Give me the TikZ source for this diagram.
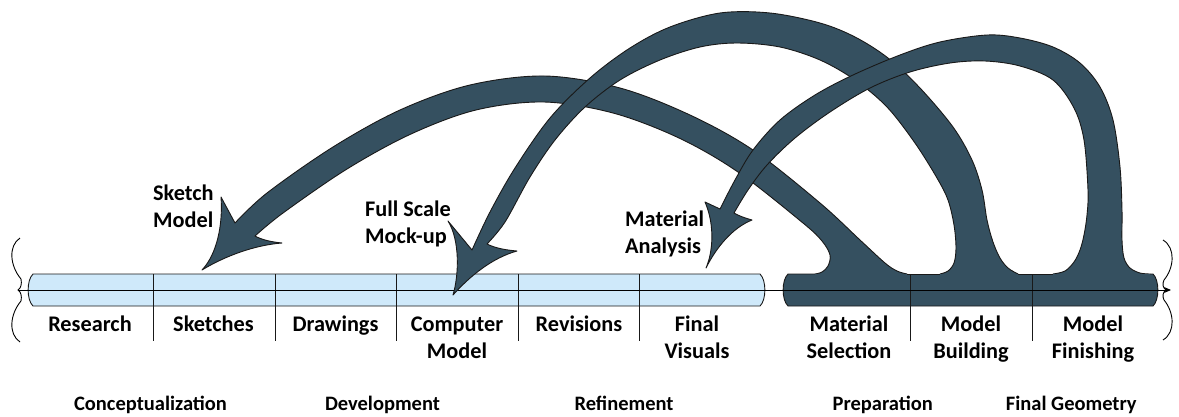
\documentclass[tikz,border=0pt]{standalone}
\usepackage{fontspec}
\setmainfont{Carlito}
\usetikzlibrary{arrows.meta}
\definecolor{slate}{RGB}{53,80,96}
\definecolor{paleblue}{RGB}{207,233,250}
\definecolor{inkline}{RGB}{25,25,25}
\tikzset{
  barline/.style={draw=inkline, line width=0.9pt},
  lightbar/.style={fill=paleblue, draw=inkline, line width=0.9pt},
  flowarrow/.style={fill=slate, draw=inkline, line width=0.9pt, line join=round},
  axisline/.style={draw=black, line width=1pt},
  bracket/.style={draw=black, line width=0.9pt},
  celltext/.style={font=\bfseries\fontsize{22.3}{27}\selectfont, align=center, anchor=base, inner sep=0pt},
  phasetext/.style={font=\bfseries\fontsize{20.5}{24}\selectfont, anchor=base, inner sep=0pt},
  notetext/.style={font=\bfseries\fontsize{22.3}{27}\selectfont, align=left, anchor=base west, inner sep=0pt},
}
\begin{document}
\begin{tikzpicture}[x=1pt,y=-1pt]
\useasboundingbox (0,0) rectangle (1179,416);

% axis end points
\coordinate (axisL) at (18,290);
\coordinate (axisM) at (776,290);
\coordinate (axisR) at (1171,290);

% light timeline bar (design stages)
\filldraw[lightbar] (33,274) -- (760,274) .. controls (766.5,280) and (766.5,300) .. (760,306)
  -- (33,306) .. controls (26.5,300) and (26.5,280) .. (33,274) -- cycle;
\foreach \x in {153,275,396,518,639}
  \draw[barline] (\x,274) -- (\x,341);

\draw[axisline] (axisL) -- (axisM);

% wavy brackets at both ends
\draw[bracket] (20,238) .. controls (8,246) and (10,266) .. (21,279)
  .. controls (22,284) and (21,288) .. (18,290)
  .. controls (21,292) and (22,296) .. (21,301)
  .. controls (10,314) and (8,334) .. (20,342);
\draw[bracket] (1163,240) .. controls (1176,248) and (1174,268) .. (1164,280)
  .. controls (1162,284) and (1163,288) .. (1166,290)
  .. controls (1163,292) and (1162,296) .. (1164,300)
  .. controls (1174,312) and (1176,332) .. (1163,340);

% feedback arrow: material selection -> sketches
\filldraw[flowarrow] (907,274) -- plot[smooth, tension=0.55] coordinates {(907,274) (897,271) (885,263) (860,240) (820,203) (753,150) (690,115) (620,88) (545,76) (470,85) (400,110) (333,147) (267,193) (235,223)}
  -- (221,197) .. controls (223,225) and (217,254) .. (202,270)
  .. controls (225,256) and (255,245) .. (282,243)
  .. controls (272,242) and (262,240) .. (255,236)
  -- plot[smooth, tension=0.55] coordinates {(255,236) (283,213) (347,169) (411,134) (476,110) (544,102) (613,113) (679,138) (738,172) (803,223) (822,241) (830,255) (828,266) (822,272) (815,274)}
  -- (815,286) -- (907,286) -- cycle;

% feedback arrow: model building -> computer model
\filldraw[flowarrow] (1018,274) -- plot[smooth, tension=0.55] coordinates {(1018,274) (1008,268) (1000,258) (993,242) (987,220) (982,190) (972,160) (953,127) (920,88) (888,58) (855,37) (820,23) (770,13) (720,13) (670,27) (630,48) (590,78) (550,118) (515,168) (490,212) (472,250)}
  -- (448,221) .. controls (460,240) and (459,275) .. (453,295)
  .. controls (470,276) and (492,258) .. (517,251)
  .. controls (505,250) and (495,248) .. (487,244)
  -- plot[smooth, tension=0.55] coordinates {(487,244) (505,222) (530,177) (555,140) (585,107) (620,80) (660,60) (700,47) (737,43) (780,47) (820,60) (855,80) (887,107) (915,143) (937,178) (948,200) (954,225) (956,248) (954,263) (948,271) (940,274)}
  -- (940,286) -- (1018,286) -- cycle;

% feedback arrow: model finishing -> final visuals
\filldraw[flowarrow] (1150,274) -- plot[smooth, tension=0.55] coordinates {(1150,274) (1140,273) (1130,268) (1124,258) (1122,240) (1122,210) (1120,167) (1113,120) (1100,87) (1080,63) (1053,47) (1020,38) (987,35) (940,42) (900,55) (853,75) (815,95) (780,120) (753,150) (735,180) (720,209)}
  -- (705,202) .. controls (715,225) and (713,252) .. (706,268)
  .. controls (716,248) and (732,228) .. (752,220)
  .. controls (745,218) and (739,216) .. (734,213)
  -- plot[smooth, tension=0.55] coordinates {(734,213) (748,190) (767,165) (795,138) (830,112) (870,88) (910,72) (950,63) (985,61) (1020,66) (1053,80) (1074,108) (1084,140) (1088,190) (1087,215) (1084,235) (1080,250) (1074,262) (1065,271) (1053,274)}
  -- (1053,286) -- (1150,286) -- cycle;

% dark timeline bar (model stages), merged with the arrow tails
\fill[slate] (788,274) -- (1153,274) .. controls (1159.5,280) and (1159.5,300) .. (1153,306)
  -- (788,306) .. controls (781.5,300) and (781.5,280) .. (788,274) -- cycle;
\draw[barline] (815,274) -- (788,274) .. controls (781.5,280) and (781.5,300) .. (788,306)
  -- (1153,306) .. controls (1159.5,300) and (1159.5,280) .. (1153,274) -- (1150,274);
\draw[barline] (907,274) -- (940,274);
\draw[barline] (1018,274) -- (1053,274);
\foreach \x in {910,1032}
  \draw[barline] (\x,274) -- (\x,341);

\draw[axisline, -{Stealth[length=7pt,width=6pt]}] (axisM) -- (axisR);

% stage labels (base anchor sits on the last line)
\node[celltext] (research) at (90,331) {Research};
\node[celltext] (sketches) at (213.5,331) {Sketches};
\node[celltext] (drawings) at (335.5,331) {Drawings};
\node[celltext] (computer) at (457,358) {Computer\\Model};
\node[celltext] (revisions) at (579,331) {Revisions};
\node[celltext] (visuals) at (697,358) {Final\\Visuals};
\node[celltext] (selection) at (849,358) {Material\\Selection};
\node[celltext] (building) at (971,358) {Model\\Building};
\node[celltext] (finishing) at (1093,358) {Model\\Finishing};

% phase labels
\node[phasetext] (concept) at (150.5,410) {Conceptualization};
\node[phasetext] (develop) at (382.5,410) {Development};
\node[phasetext] (refine) at (624,410) {Refinement};
\node[phasetext] (prepare) at (882.7,410) {Preparation};
\node[phasetext] (geometry) at (1071.3,410) {Final Geometry};

% arrow labels
\node[notetext] (sketchmodel) at (153,227) {Sketch\\Model};
\node[notetext] (mockup) at (365,243) {Full Scale\\Mock-up};
\node[notetext] (analysis) at (625,253) {Material\\Analysis};
\end{tikzpicture}
\end{document}
